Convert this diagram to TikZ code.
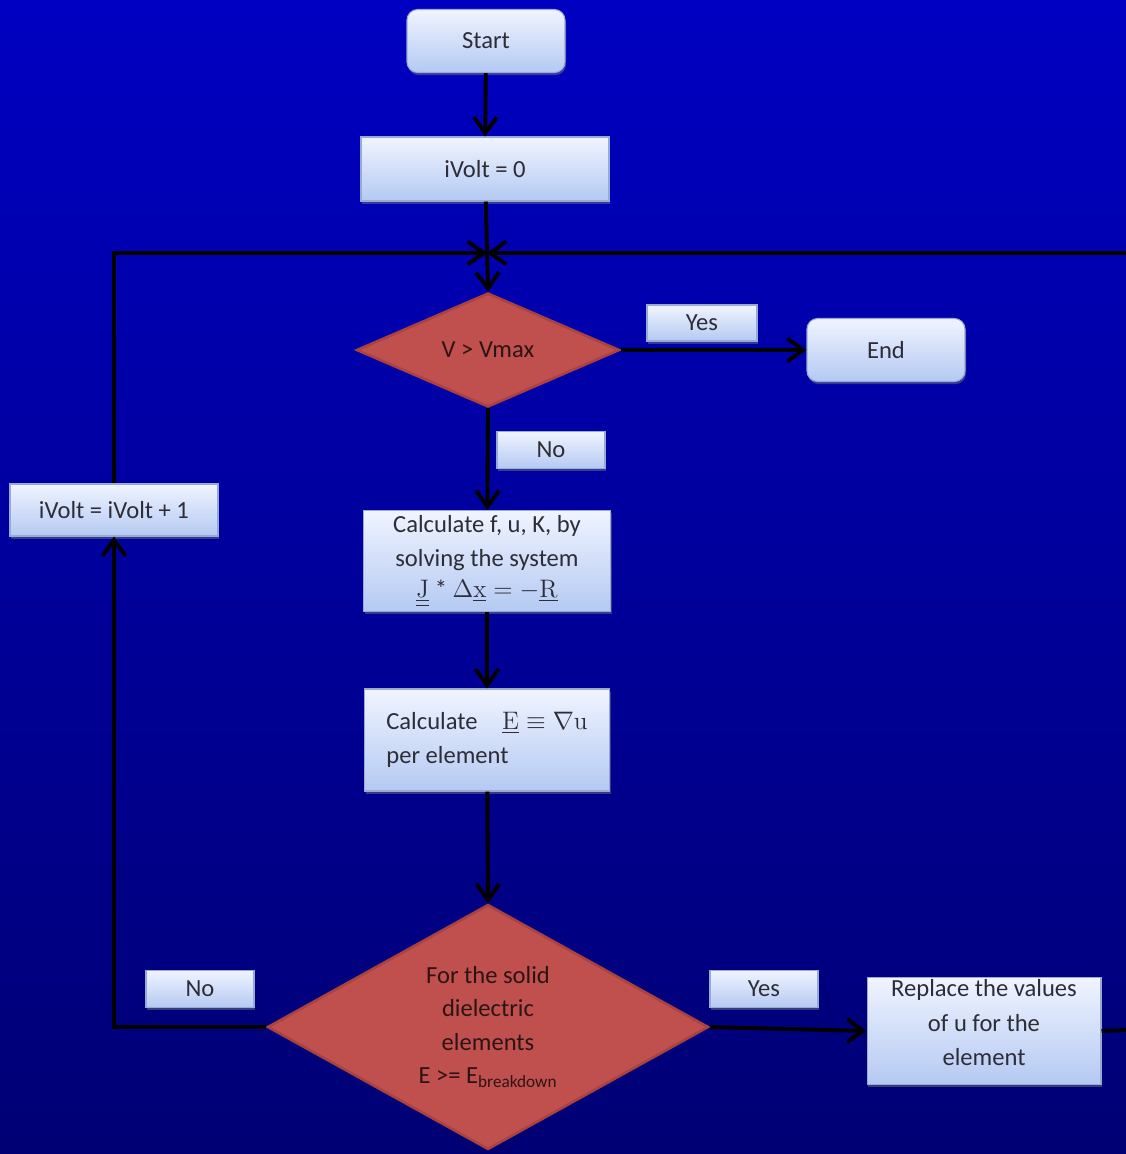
\documentclass[tikz,border=0pt]{standalone}
\usepackage{amsmath, amssymb}
\usepackage[no-math]{fontspec}
\setmainfont{Carlito}
\usetikzlibrary{shapes.geometric, arrows.meta, shadows}
\definecolor{bgtop}{RGB}{0, 0, 194}
\definecolor{bgbot}{RGB}{0, 0, 116}
\definecolor{boxtop}{RGB}{240, 244, 255}
\definecolor{boxbot}{RGB}{180, 201, 242}
\definecolor{boxline}{RGB}{150, 170, 210}
\definecolor{txtgray}{RGB}{45, 45, 55}
\definecolor{decred}{RGB}{192, 80, 77}
\definecolor{decline}{RGB}{172, 66, 62}
\definecolor{dectext}{RGB}{45, 20, 20}
\tikzset{
    flowbox/.style={draw=boxline, line width=0.6pt, rectangle, top color=boxtop, bottom color=boxbot, font=\fontsize{14}{19.5}\selectfont, text=txtgray, align=center, inner sep=2pt, drop shadow={shadow xshift=0.6pt, shadow yshift=-1.5pt, opacity=0.45}},
    termbox/.style={flowbox, rounded corners=6pt, minimum width=3.16cm, minimum height=1.26cm},
    tagbox/.style={flowbox, minimum width=2.16cm, minimum height=0.74cm},
    decbox/.style={diamond, draw=decline, line width=1.5pt, fill=decred, inner sep=0pt, font=\fontsize{14}{19}\selectfont, text=dectext, align=center},
    flowarrow/.style={-{Straight Barb[length=3.2mm, width=4.6mm]}, line width=2.2pt, draw=black},
    flowline/.style={line width=2.2pt, draw=black},
}
\begin{document}
\begin{tikzpicture}[x=0.02cm, y=-0.02cm]
    % background
    \useasboundingbox (0,0) rectangle (1126,1154);
    \clip (0,0) rectangle (1126,1154);
    \shade[top color=bgtop, bottom color=bgbot] (0,0) rectangle (1126,1154);

    % main column
    \node[termbox] (start) at (486,41) {Start};
    \node[flowbox, minimum width=4.96cm, minimum height=1.28cm] (init) at (485,169) {iVolt = 0};
    \node[decbox, aspect=2.3, minimum width=5.26cm, minimum height=2.28cm] (test1) at (488,350) {V > Vmax};
    \node[flowbox, minimum width=4.94cm, minimum height=2.02cm] (solve) at (487,561)
        {Calculate f, u, K, by\\solving the system\\[-2pt]
         $\underline{\underline{\mathrm{J}}}\mathbin{\text{*}}\Delta\underline{\mathrm{x}}=-\underline{\mathrm{R}}$};
    \node[flowbox, minimum width=4.9cm, minimum height=2.04cm, align=left] (field) at (487,740)
        {Calculate\quad $\underline{\mathrm{E}}\equiv\nabla\mathrm{u}$\\per element};
    \node[decbox, aspect=1.8, minimum width=8.82cm, minimum height=4.9cm] (test2) at (488,1027)
        {For the solid\\dielectric\\elements\\E >= E\textsubscript{breakdown}};

    % side boxes
    \node[termbox] (finish) at (886,350) {End};
    \node[flowbox, minimum width=4.16cm, minimum height=1.04cm] (incr) at (114,510) {iVolt = iVolt + 1};
    \node[flowbox, inner sep=0pt, minimum width=4.68cm, minimum height=2.14cm] (repl) at (984,1031)
        {Replace the values\\of u for the\\element\\[-10pt]\mbox{}};

    % yes / no tags
    \node[tagbox, minimum width=2.2cm, minimum height=0.72cm] (yes1) at (702,323) {Yes};
    \node[tagbox] (no1) at (551,450) {No};
    \node[tagbox] (no2) at (200,989) {No};
    \node[tagbox] (yes2) at (764,989) {Yes};

    % loop points
    \coordinate (join) at (487,253);
    \coordinate (rtop) at (1126,253);
    \coordinate (rbot) at (1126,1030);

    % connectors
    \draw[flowarrow] (start) -- (init);
    \draw[flowarrow] (init) -- (test1.north);
    \draw[flowarrow] (incr.north) |- (join);
    \draw[flowarrow] (rtop) -- (join);
    \draw[flowarrow] (test1.east) -- (finish);
    \draw[flowarrow] (test1.south) -- (solve);
    \draw[flowarrow] (solve) -- (field);
    \draw[flowarrow] (field) -- (test2.north);
    \draw[flowarrow] (test2.west) -| (incr.south);
    \draw[flowarrow] (test2.east) -- (repl.west);
    \draw[flowline] (repl.east) -- (rbot);
\end{tikzpicture}
\end{document}
